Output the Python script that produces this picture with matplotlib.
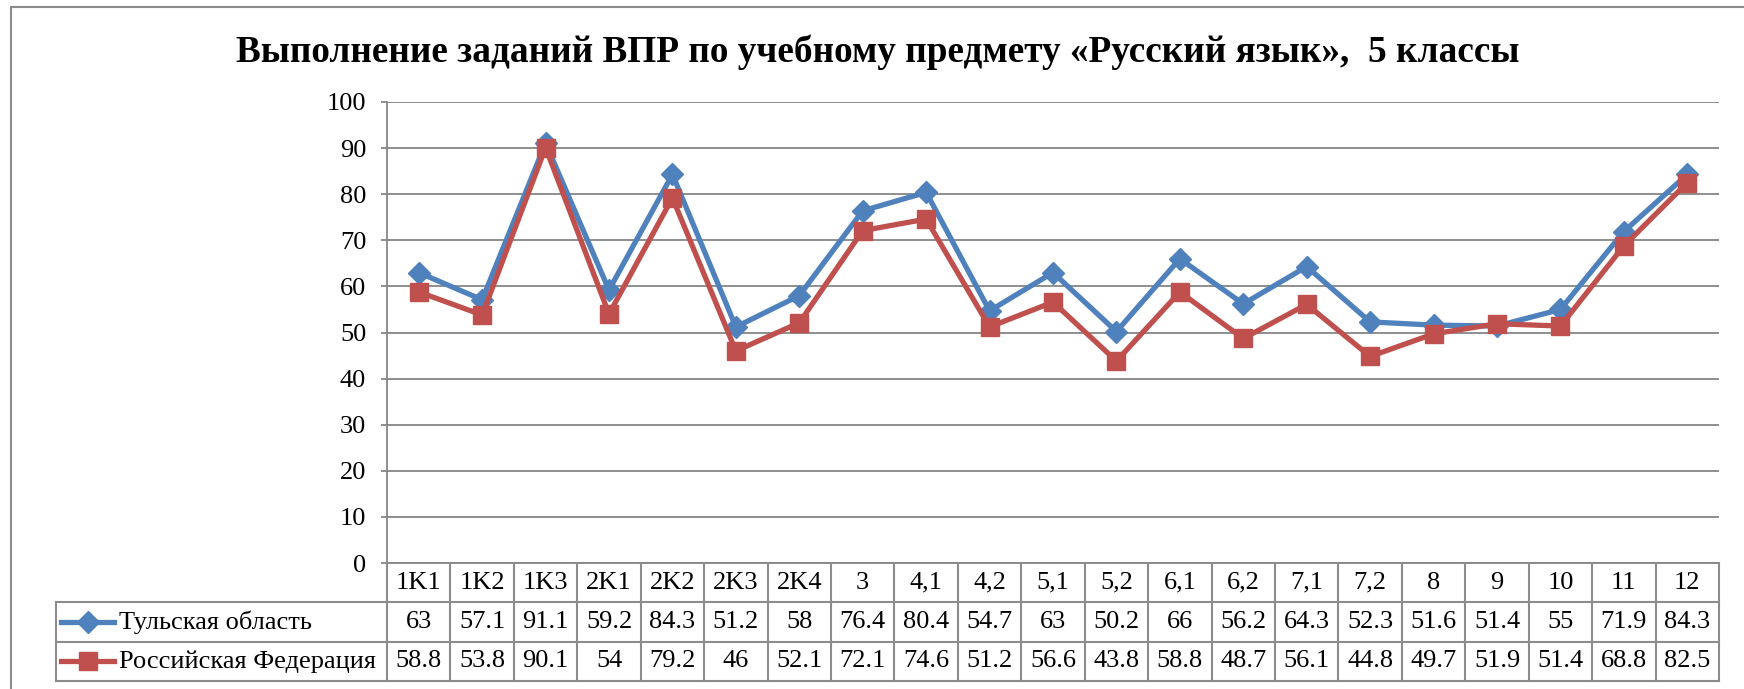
import matplotlib
matplotlib.use("Agg")
import matplotlib.pyplot as plt
from matplotlib.lines import Line2D

plt.rcParams['font.family'] = ['Liberation Serif', 'DejaVu Serif']

# data
categories = ['1K1', '1K2', '1K3', '2K1', '2K2', '2K3', '2K4', '3', '4,1', '4,2', '5,1',
              '5,2', '6,1', '6,2', '7,1', '7,2', '8', '9', '10', '11', '12']
tula = [63, 57.1, 91.1, 59.2, 84.3, 51.2, 58, 76.4, 80.4, 54.7, 63,
        50.2, 66, 56.2, 64.3, 52.3, 51.6, 51.4, 55, 71.9, 84.3]
russia = [58.8, 53.8, 90.1, 54, 79.2, 46, 52.1, 72.1, 74.6, 51.2, 56.6,
          43.8, 58.8, 48.7, 56.1, 44.8, 49.7, 51.9, 51.4, 68.8, 82.5]
series_names = ['Тульская область', 'Российская Федерация']
title = 'Выполнение заданий ВПР по учебному предмету «Русский язык»,  5 классы'

blue = '#4F81BD'
red = '#C0504D'
grid_col = '#868686'
fs = 19

W, H = 1744, 689
fig = plt.figure(figsize=(W / 100, H / 100), dpi=100)

# plot area in pixels
left, right, top, bottom = 387, 1719, 102, 563
tbl_bottom = 681
ax = fig.add_axes([left / W, 1 - bottom / H, (right - left) / W, (bottom - top) / H])
tax = fig.add_axes([left / W, 1 - tbl_bottom / H, (right - left) / W, (tbl_bottom - bottom) / H])

x = list(range(len(categories)))
ax.plot(x, tula, color=blue, lw=3.8, marker='D', ms=11, label=series_names[0], zorder=3)
ax.plot(x, russia, color=red, lw=3.8, marker='s', ms=13, label=series_names[1], zorder=4)

ax.set_xlim(-0.5, len(categories) - 0.5)
ax.set_ylim(0, 100)
ax.set_yticks(range(0, 101, 10))
ax.set_xticks([])
ax.yaxis.grid(True, color=grid_col, lw=1.3)
ax.set_axisbelow(True)
for s in ['top', 'right']:
    ax.spines[s].set_visible(False)
ax.spines['left'].set_color(grid_col)
ax.spines['left'].set_linewidth(1.3)
ax.spines['bottom'].set_color(grid_col)
ax.spines['bottom'].set_linewidth(1.3)
ax.tick_params(axis='y', length=4, width=1.3, color=grid_col, pad=11, labelsize=fs)

# data table below the plot
tax.set_xlim(-0.5, len(categories) - 0.5)
tax.set_ylim(3, 0)
tax.axis('off')
col_w = (right - left) / len(categories)
lab_left = -0.5 - (left - 56) / col_w
tcol = '#8C8C8C'
for i in range(len(categories) + 1):
    tax.plot([i - 0.5, i - 0.5], [0, 3], color=tcol, lw=1.5, clip_on=False)
for r in [1, 2, 3]:
    tax.plot([lab_left, len(categories) - 0.5], [r, r], color=tcol, lw=1.5, clip_on=False)
tax.plot([lab_left, lab_left], [1, 3], color=tcol, lw=1.5, clip_on=False)

for i, c in enumerate(categories):
    tax.text(i, 0.5, c, ha='center', va='center', fontsize=fs, clip_on=False)
    tax.text(i, 1.5, f'{tula[i]:g}', ha='center', va='center', fontsize=fs, clip_on=False)
    tax.text(i, 2.5, f'{russia[i]:g}', ha='center', va='center', fontsize=fs, clip_on=False)

g0 = -0.5 - (left - 61) / col_w
g1 = -0.5 - (left - 114) / col_w
gm = (g0 + g1) / 2
txt_x = -0.5 - (left - 119) / col_w
for r, name, colr, mk, ms in [(1.5, series_names[0], blue, 'D', 11), (2.5, series_names[1], red, 's', 13)]:
    tax.plot([g0, g1], [r, r], color=colr, lw=3.8, clip_on=False)
    tax.plot([gm], [r], color=colr, marker=mk, ms=ms, clip_on=False)
    tax.text(txt_x, r, name, ha='left', va='center', fontsize=fs, clip_on=False)

# title and chart frame
fig.text(878 / W, 1 - 52 / H, title, ha='center', va='center', fontsize=26.8, fontweight='bold')
fig.add_artist(Line2D([11 / W, 11 / W], [0, 1 - 7 / H], color=tcol, lw=1.5))
fig.add_artist(Line2D([11 / W, 1], [1 - 7 / H, 1 - 7 / H], color=tcol, lw=1.5))

fig.savefig('out.png', dpi=100)
